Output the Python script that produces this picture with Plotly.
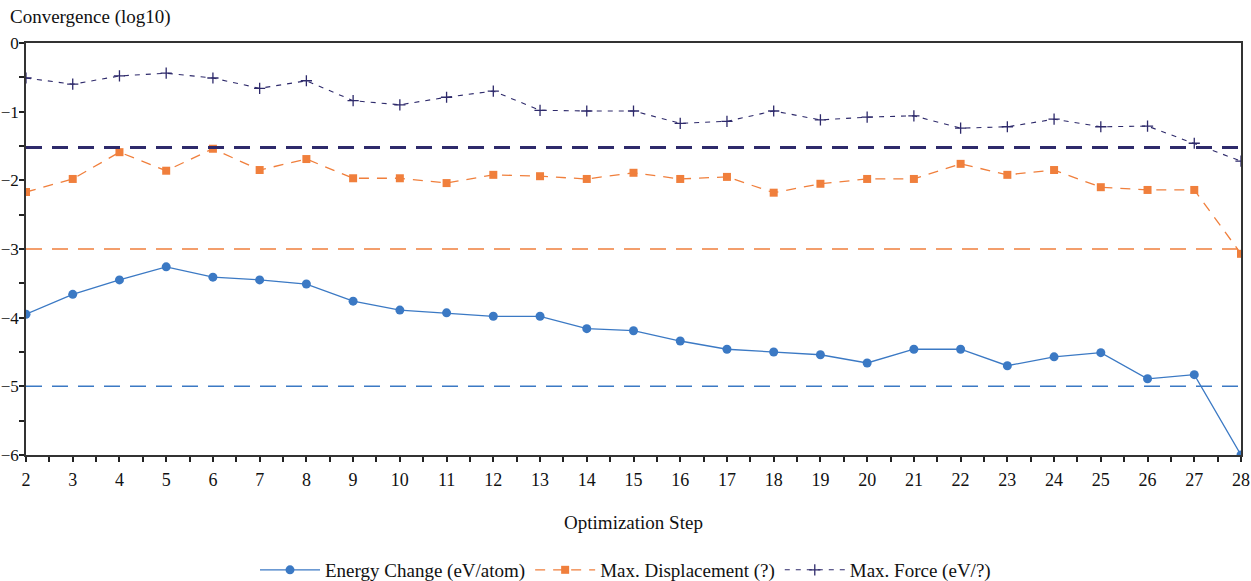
import math
import plotly.graph_objects as go

steps = list(range(2, 29))

energy_change = [-3.95, -3.66, -3.45, -3.26, -3.41, -3.45, -3.51, -3.76, -3.89, -3.93,
                 -3.98, -3.98, -4.16, -4.19, -4.34, -4.46, -4.50, -4.54, -4.66, -4.46,
                 -4.46, -4.70, -4.57, -4.51, -4.89, -4.83, -6.00]
max_displacement = [-2.17, -1.98, -1.59, -1.86, -1.54, -1.85, -1.69, -1.97, -1.97, -2.04,
                    -1.92, -1.94, -1.98, -1.89, -1.98, -1.95, -2.18, -2.05, -1.98, -1.98,
                    -1.76, -1.92, -1.85, -2.10, -2.14, -2.14, -3.07]
max_force = [-0.51, -0.60, -0.48, -0.44, -0.51, -0.66, -0.55, -0.84, -0.90, -0.79,
             -0.70, -0.98, -0.99, -0.99, -1.17, -1.14, -0.99, -1.12, -1.08, -1.06,
             -1.24, -1.22, -1.11, -1.22, -1.21, -1.46, -1.72]

# convergence tolerances (log10)
energy_tol = math.log10(1e-5)
disp_tol = math.log10(1e-3)
force_tol = math.log10(0.03)

BLUE = "#3b79c4"
ORANGE = "#f07f3c"
NAVY = "#2e2a6b"
FONT = "Liberation Serif, Times New Roman, serif"
FS = 18
FS_TEXT = 19
INK = "#111111"

fig = go.Figure()

fig.add_trace(go.Scatter(
    x=steps, y=energy_change, name="Energy Change (eV/atom)", mode="lines+markers",
    line=dict(color=BLUE, width=1.3),
    marker=dict(symbol="circle", size=9, color=BLUE),
))
fig.add_trace(go.Scatter(
    x=steps, y=max_displacement, name="Max. Displacement (?)", mode="lines+markers",
    line=dict(color=ORANGE, width=1.3, dash="10px,8px"),
    marker=dict(symbol="square", size=8, color=ORANGE),
))
fig.add_trace(go.Scatter(
    x=steps, y=max_force, name="Max. Force (eV/?)", mode="lines+markers",
    line=dict(color=NAVY, width=1.1, dash="5px,6px"),
    marker=dict(symbol="cross-thin", size=8, color=NAVY, line=dict(color=NAVY, width=1.3)),
))

for yv, col, w in [(energy_tol, BLUE, 1.5), (disp_tol, ORANGE, 1.5), (force_tol, NAVY, 3)]:
    fig.add_shape(type="line", xref="x", yref="y", x0=steps[0], x1=steps[-1], y0=yv, y1=yv,
                  line=dict(color=col, width=w, dash="16px,10px"), layer="above")

axis_common = dict(
    showline=True, linecolor="#333333", linewidth=1.5, mirror=True, automargin=False,
    showgrid=False, zeroline=False, ticks="outside", ticklen=5, tickwidth=1.5,
    tickcolor="#222222",
)
minor_ticks = dict(dtick=0.5, ticks="outside", ticklen=5, tickwidth=1.5, tickcolor="#222222")

fig.update_xaxes(
    range=[2, 28], dtick=1, tick0=2, minor=minor_ticks, ticklabelstandoff=3,
    tickfont=dict(family=FONT, size=FS, color=INK),
    title=dict(text="Optimization Step", font=dict(family=FONT, size=FS_TEXT, color=INK), standoff=26),
    **axis_common,
)
fig.update_yaxes(
    range=[-6, 0], dtick=1, minor=minor_ticks, ticklabelstandoff=-3,
    tickfont=dict(family=FONT, size=17, color=INK),
    **axis_common,
)

fig.add_annotation(text="Convergence (log10)", xref="paper", yref="paper", x=-0.0148, y=1.0,
                   yshift=26, xanchor="left", yanchor="middle", showarrow=False,
                   font=dict(family=FONT, size=FS_TEXT, color=INK))

fig.update_layout(
    width=1251, height=581,
    margin=dict(l=26, r=10, t=43, b=126),
    plot_bgcolor="white", paper_bgcolor="white",
    font=dict(family=FONT, size=FS, color=INK),
    legend=dict(orientation="h", x=0.5, xanchor="center", xref="container",
                y=0.019, yanchor="middle", yref="container",
                font=dict(family=FONT, size=FS_TEXT, color=INK), itemwidth=60),
    showlegend=True,
)

fig.write_html("out.html")
